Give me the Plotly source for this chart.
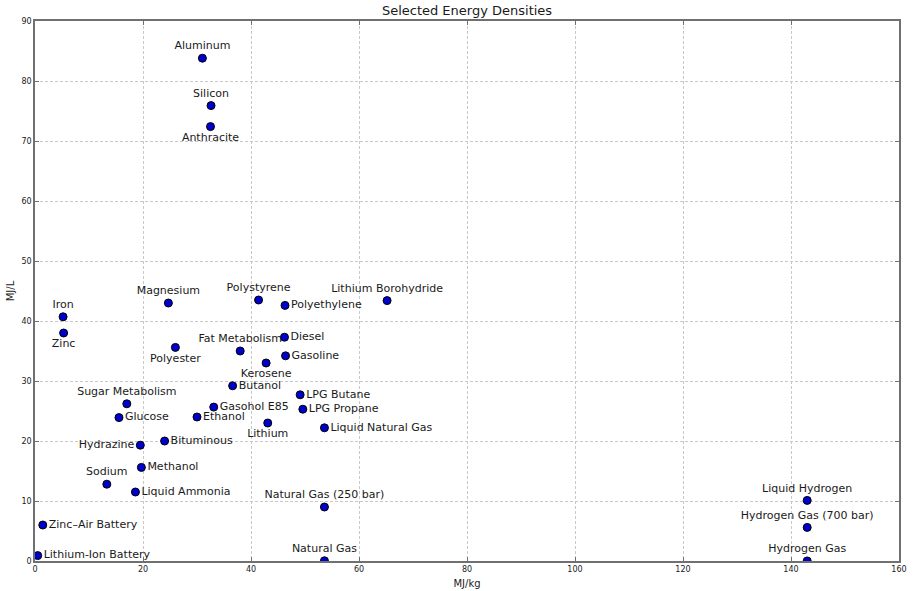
import plotly.graph_objects as go

# Energy densities
names = [
    "Aluminum", "Silicon", "Anthracite", "Magnesium", "Polystyrene",
    "Polyethylene", "Lithium Borohydride", "Iron", "Zinc", "Polyester",
    "Fat Metabolism", "Diesel", "Gasoline", "Kerosene", "Butanol",
    "LPG Butane", "LPG Propane", "Sugar Metabolism", "Gasohol E85", "Glucose",
    "Ethanol", "Lithium", "Liquid Natural Gas", "Hydrazine", "Bituminous",
    "Methanol", "Sodium", "Liquid Ammonia", "Natural Gas (250 bar)",
    "Zinc–Air Battery", "Lithium-Ion Battery", "Natural Gas",
    "Liquid Hydrogen", "Hydrogen Gas (700 bar)", "Hydrogen Gas",
]
mj_per_kg = [
    31.0, 32.6, 32.5, 24.7, 41.4,
    46.3, 65.2, 5.2, 5.3, 26.0,
    38.0, 46.2, 46.4, 42.8, 36.6,
    49.1, 49.6, 17.0, 33.1, 15.55,
    30.0, 43.1, 53.6, 19.5, 24.0,
    19.7, 13.3, 18.6, 53.6,
    1.44, 0.5, 53.6,
    143.0, 143.0, 143.0,
]
mj_per_l = [
    83.8, 75.9, 72.4, 43.0, 43.5,
    42.6, 43.4, 40.7, 38.0, 35.6,
    35.0, 37.3, 34.2, 33.0, 29.2,
    27.7, 25.3, 26.2, 25.65, 23.9,
    24.0, 23.0, 22.2, 19.3, 20.0,
    15.6, 12.8, 11.5, 9.0,
    6.0, 0.9, 0.036,
    10.1, 5.6, 0.01,
]
label_pos = [
    "top center", "top center", "bottom center", "top center", "top center",
    "middle right", "top center", "top center", "bottom center", "bottom center",
    "top center", "middle right", "middle right", "bottom center", "middle right",
    "middle right", "middle right", "top center", "middle right", "middle right",
    "middle right", "bottom center", "middle right", "middle left", "middle right",
    "middle right", "top center", "middle right", "top center",
    "middle right", "middle right", "top center",
    "top center", "top center", "top center",
]

fig = go.Figure()
fig.add_trace(go.Scatter(
    x=mj_per_kg,
    y=mj_per_l,
    mode="markers+text",
    text=names,
    textposition=label_pos,
    textfont=dict(family="DejaVu Sans", size=11, color="#1a1a1a"),
    marker=dict(size=8, color="#0000cc", line=dict(color="#000000", width=1)),
    cliponaxis=True,
    showlegend=False,
))

axis_style = dict(
    showgrid=True,
    gridcolor="#c8c8c8",
    griddash="3px,2px",
    gridwidth=1,
    showline=True,
    linecolor="#707070",
    linewidth=1.5,
    mirror="ticks",
    ticks="inside",
    ticklen=4,
    tickcolor="#707070",
    tickfont=dict(family="DejaVu Sans", size=8, color="#1a1a1a"),
    zeroline=False,
    automargin=False,
)

fig.update_layout(
    width=913,
    height=591,
    margin=dict(l=35, r=14, t=21, b=30),
    paper_bgcolor="white",
    plot_bgcolor="white",
    title=dict(text="Selected Energy Densities", x=0.5, xref="paper", xanchor="center",
               y=0.983, yanchor="middle",
               font=dict(family="DejaVu Sans", size=13, color="#1a1a1a")),
    xaxis=dict(axis_style, range=[0, 160], dtick=20,
               title=dict(text="MJ/kg", standoff=7, font=dict(family="DejaVu Sans", size=10, color="#1a1a1a"))),
    yaxis=dict(axis_style, range=[0, 90], dtick=10,
               title=dict(text="MJ/L", standoff=5, font=dict(family="DejaVu Sans", size=10, color="#1a1a1a"))),
)

# drop the default body margin so the figure sits at the page origin
fig.write_html("out.html", config={"displayModeBar": False},
               post_script="document.body.style.margin='0';")
